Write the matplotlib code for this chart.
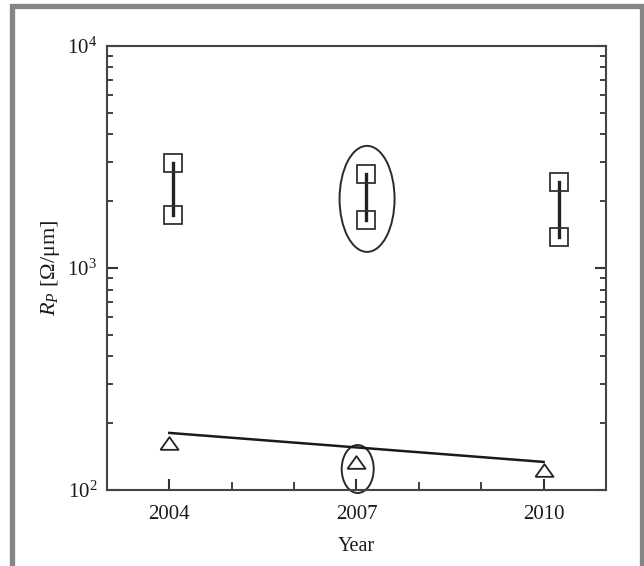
import matplotlib.pyplot as plt
import numpy as np
from matplotlib.patches import Ellipse, Rectangle
from matplotlib.transforms import ScaledTranslation
from matplotlib.ticker import LogLocator, FixedLocator

plt.rcParams['font.family'] = ['Liberation Serif', 'DejaVu Serif']
plt.rcParams['mathtext.fontset'] = 'custom'
plt.rcParams['mathtext.rm'] = 'Liberation Serif'
plt.rcParams['mathtext.it'] = 'Liberation Serif:italic'

# squares: range of R_P per year (slightly shifted to the right in the original)
sq_years = [2004.06, 2007.15, 2010.24]
sq_high = [2970, 2650, 2450]
sq_low = [1730, 1645, 1380]

# triangles and trend line
tri_years = [2004, 2007, 2010]
tri_vals = [163, 134, 123]
trend_years = [2004, 2010]
trend_vals = [181, 134]

fig = plt.figure(figsize=(6.44, 5.66), dpi=100)
ax = fig.add_axes([0.166, 0.134, 0.775, 0.785])

# frame around the whole picture
fig.patches.append(Rectangle((11.5 / 644, -0.05), (641.5 - 11.5) / 644, 1.05 - 6 / 566,
                             transform=fig.transFigure, fill=False,
                             edgecolor='#858585', linewidth=3.8))

for x, hi, lo in zip(sq_years, sq_high, sq_low):
    ax.plot([x, x], [hi, lo], color='#222222', linewidth=2.4, zorder=2)
ax.plot(sq_years, sq_high, linestyle='none', marker='s', markersize=13,
        markerfacecolor='none', markeredgecolor='#333333', markeredgewidth=1.3, zorder=3)
ax.plot(sq_years, sq_low, linestyle='none', marker='s', markersize=13,
        markerfacecolor='none', markeredgecolor='#333333', markeredgewidth=1.3, zorder=3)

ax.plot(trend_years, trend_vals, color='#1a1a1a', linewidth=1.8, zorder=2)
tri = [(-1, -0.7), (1, -0.7), (0, 0.7), (-1, -0.7)]
ax.plot(tri_years, tri_vals, linestyle='none', marker=tri, markersize=13,
        markerfacecolor='white', markeredgecolor='#222222', markeredgewidth=1.3, zorder=3)

# circled points (size given in inches, centred on data points)
for (cx, cy, w, h) in [(2007.17, 2047, 0.55, 1.06), (2007.02, 124.5, 0.32, 0.48)]:
    e = Ellipse((0, 0), w, h, fill=False, edgecolor='#2a2a2a', linewidth=1.4,
                transform=fig.dpi_scale_trans + ScaledTranslation(cx, cy, ax.transData),
                clip_on=False)
    ax.add_artist(e)

ax.set_yscale('log')
ax.set_ylim(100, 1e4)
ax.set_xlim(2003, 2011)
ax.xaxis.set_major_locator(FixedLocator([2004, 2007, 2010]))
ax.xaxis.set_minor_locator(FixedLocator([2005, 2006, 2008, 2009]))
ax.yaxis.set_major_locator(LogLocator(base=10))
ax.yaxis.set_minor_locator(LogLocator(base=10, subs=np.arange(2, 10)))
ax.yaxis.set_minor_formatter(plt.NullFormatter())

ax.tick_params(which='both', direction='in', colors='#333333', labelcolor='#1a1a1a',
               labelsize=15, top=False, right=True)
ax.tick_params(which='major', length=8, width=1.5)
ax.tick_params(which='minor', length=6, width=1.3)
ax.tick_params(axis='y', which='minor', length=4.5)
ax.tick_params(axis='x', pad=11)
ax.tick_params(axis='y', pad=7)

for s in ax.spines.values():
    s.set_color('#444444')
    s.set_linewidth(1.5)

ax.set_xlabel('Year', fontsize=14.5, color='#1a1a1a', labelpad=9)
ax.set_ylabel('$R_P$ [Ω/μm]', fontsize=16, color='#1a1a1a', labelpad=4)

fig.savefig('out.png', dpi=100)
